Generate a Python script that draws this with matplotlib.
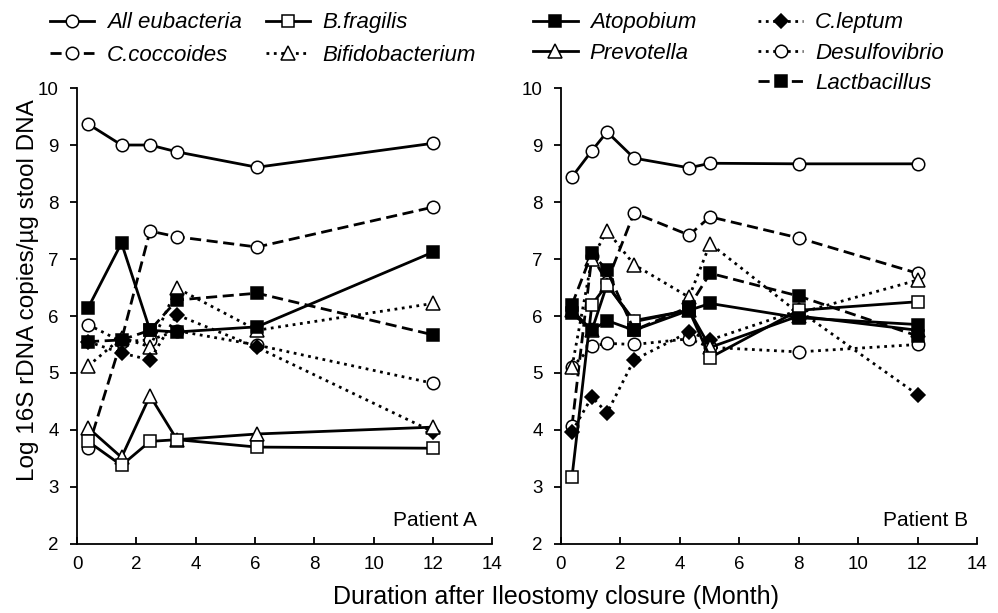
import numpy as np
import matplotlib
matplotlib.use("Agg")
import matplotlib.pyplot as plt
from matplotlib.lines import Line2D

plt.rcParams['font.family'] = ['Liberation Sans', 'DejaVu Sans']

# months after closure
month_a = [0.37, 1.5, 2.46, 3.37, 6.07, 12]
month_b = [0.37, 1.04, 1.55, 2.46, 4.31, 5.02, 8.0, 12]

# Patient A
eub_a = [9.37, 9.0, 9.0, 8.88, 8.61, 9.03]
bfrag_a = [3.8, 3.38, 3.8, 3.83, 3.7, 3.68]
ccocc_a = [3.68, 5.58, 7.49, 7.39, 7.21, 7.91]
bifido_a = [5.12, 5.62, 5.46, 6.49, 5.75, 6.22]
atop_a = [6.14, 7.28, 5.75, 5.72, 5.81, 7.12]
prevo_a = [4.04, 3.52, 4.6, 3.83, 3.93, 4.05]
clept_a = [5.55, 5.35, 5.23, 6.02, 5.45, 3.97]
desulfo_a = [5.85, 5.55, 5.58, 5.74, 5.49, 4.82]
lact_a = [5.55, 5.58, 5.75, 6.28, 6.4, 5.67]

# Patient B
eub_b = [8.44, 8.9, 9.23, 8.77, 8.6, 8.68, 8.67, 8.67]
bfrag_b = [3.17, 6.2, 6.55, 5.92, 6.1, 5.27, 6.1, 6.25]
ccocc_b = [4.07, 7.05, 6.6, 7.81, 7.42, 7.74, 7.37, 6.75]
bifido_b = [5.1, 7.0, 7.5, 6.9, 6.33, 7.27, 6.05, 6.63]
atop_b = [6.05, 5.75, 5.92, 5.75, 6.1, 6.22, 5.97, 5.85]
prevo_b = [6.1, 5.75, 6.55, 5.9, 6.1, 5.45, 6.0, 5.75]
clept_b = [3.97, 4.58, 4.3, 5.23, 5.72, 5.58, 6.1, 4.62]
desulfo_b = [5.1, 5.47, 5.52, 5.5, 5.6, 5.45, 5.37, 5.5]
lact_b = [6.2, 7.1, 6.8, 5.75, 6.16, 6.75, 6.35, 5.65]

names = ['All eubacteria', 'B.fragilis', 'C.coccoides', 'Bifidobacterium',
         'Atopobium', 'Prevotella', 'C.leptum', 'Desulfovibrio', 'Lactbacillus']

# line style, marker, filled
styles = {
    'All eubacteria': ('-', 'o', False),
    'B.fragilis': ('-', 's', False),
    'C.coccoides': ((0, (4, 2)), 'o', False),
    'Bifidobacterium': (':', '^', False),
    'Atopobium': ('-', 's', True),
    'Prevotella': ('-', '^', False),
    'C.leptum': (':', 'D', True),
    'Desulfovibrio': (':', 'o', False),
    'Lactbacillus': ((0, (4, 2)), 's', True),
}

data_a = dict(zip(names, [eub_a, bfrag_a, ccocc_a, bifido_a, atop_a, prevo_a,
                          clept_a, desulfo_a, lact_a]))
data_b = dict(zip(names, [eub_b, bfrag_b, ccocc_b, bifido_b, atop_b, prevo_b,
                          clept_b, desulfo_b, lact_b]))

# drawing order (later on top)
order = ['All eubacteria', 'C.coccoides', 'Desulfovibrio', 'Bifidobacterium',
         'C.leptum', 'Prevotella', 'B.fragilis', 'Atopobium', 'Lactbacillus']

fig = plt.figure(figsize=(9.98, 6.13), dpi=100)
ax1 = fig.add_axes([0.0772, 0.1126, 0.416, 0.7438])
ax2 = fig.add_axes([0.5621, 0.1126, 0.4168, 0.7438])

handles = {}
for ax, xs, data in [(ax1, month_a, data_a), (ax2, month_b, data_b)]:
    for name in order:
        ls, mk, filled = styles[name]
        ms = 7 if mk == 'D' else (10 if mk == '^' else 9)
        h, = ax.plot(xs, data[name], linestyle=ls, marker=mk, color='black', lw=2,
                     ms=ms, mec='black', mew=1.1,
                     mfc='black' if filled else 'white')
        handles[name] = h
    ax.set_xlim(0, 14)
    ax.set_ylim(2, 10)
    ax.set_xticks(range(0, 15, 2))
    ax.set_yticks(range(2, 11))
    ax.spines['top'].set_visible(False)
    ax.spines['right'].set_visible(False)
    ax.spines['left'].set_linewidth(1.3)
    ax.spines['bottom'].set_linewidth(1.3)
    ax.tick_params(axis='x', direction='in', length=5, width=1.3, labelsize=13.5, pad=9)
    ax.tick_params(axis='y', direction='out', length=5, width=1.3, labelsize=13.5, pad=8)

ax1.text(10.65, 2.42, 'Patient A', fontsize=15, va='center')
ax2.text(10.85, 2.42, 'Patient B', fontsize=15, va='center')

fig.text(0.028, 0.527, 'Log 16S rDNA copies/\u00b5g stool DNA', fontsize=17.5,
         rotation=90, ha='center', va='center')
fig.text(0.557, 0.026, 'Duration after Ileostomy closure (Month)', fontsize=18,
         ha='center', va='center')

blank = Line2D([], [], alpha=0)
leg_font = {'style': 'italic', 'size': 16}
fig.legend([handles['All eubacteria'], handles['C.coccoides'],
            handles['B.fragilis'], handles['Bifidobacterium']],
           ['All eubacteria', 'C.coccoides', 'B.fragilis', 'Bifidobacterium'],
           ncol=2, loc='upper left', bbox_to_anchor=(0.0457, 0.987), frameon=False,
           prop=leg_font, handlelength=2.0, handletextpad=0.55, columnspacing=1.1,
           labelspacing=0.5, borderpad=0.2, borderaxespad=0)
fig.legend([handles['Atopobium'], handles['Prevotella'], blank,
            handles['C.leptum'], handles['Desulfovibrio'], handles['Lactbacillus']],
           ['Atopobium', 'Prevotella', '', 'C.leptum', 'Desulfovibrio', 'Lactbacillus'],
           ncol=2, loc='upper left', bbox_to_anchor=(0.5297, 0.987), frameon=False,
           prop=leg_font, handlelength=2.0, handletextpad=0.55, columnspacing=2.8,
           labelspacing=0.42, borderpad=0.2, borderaxespad=0)

fig.savefig('out.png', dpi=100)
